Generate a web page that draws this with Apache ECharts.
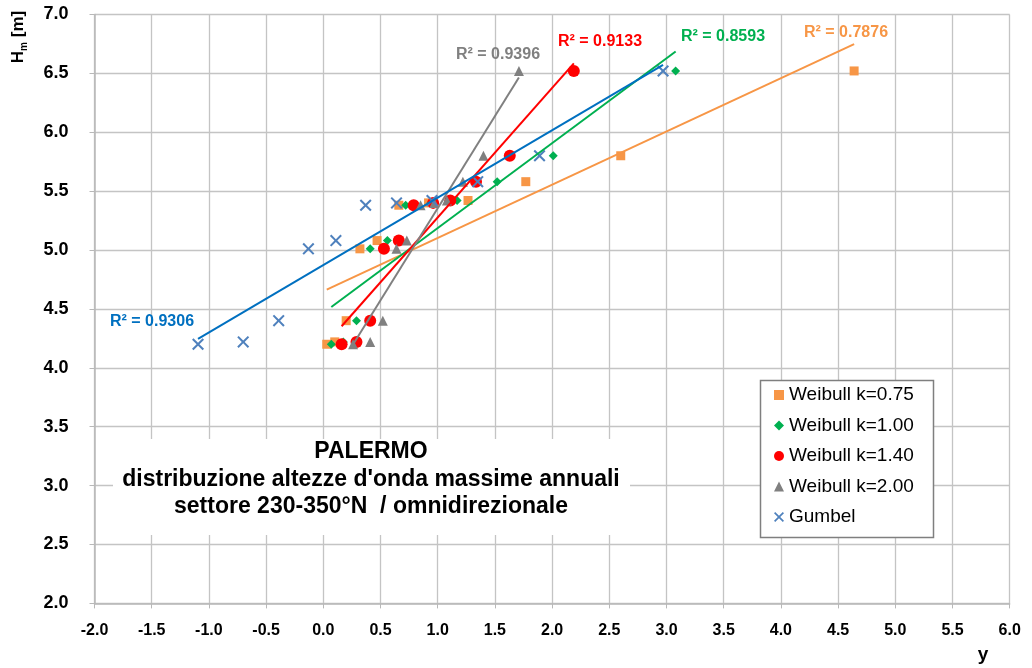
<!DOCTYPE html>
<html>
<head>
<meta charset="utf-8">
<script src="https://cdn.jsdelivr.net/npm/echarts@6/dist/echarts.min.js"></script>
<style>
html,body{margin:0;padding:0;background:#fff;}
#chart{width:1032px;height:668px;}
</style>
</head>
<body>
<div id="chart"></div>
<script>
// ---- data ----
const H = [4.20, 4.22, 4.40, 5.01, 5.08, 5.38, 5.40, 5.42, 5.58, 5.80, 6.52];
const yWeibull075 = [0.03, 0.10, 0.20, 0.32, 0.47, 0.66, 0.92, 1.265, 1.77, 2.60, 4.64];
const yWeibull100 = [0.07, 0.175, 0.29, 0.41, 0.56, 0.72, 0.94, 1.17, 1.52, 2.01, 3.08];
const yWeibull140 = [0.16, 0.29, 0.41, 0.53, 0.66, 0.79, 0.96, 1.11, 1.335, 1.63, 2.19];
const yWeibull200 = [0.26, 0.41, 0.52, 0.64, 0.73, 0.85, 0.97, 1.08, 1.22, 1.40, 1.71];
const yGumbel = [-1.095, -0.70, -0.39, -0.13, 0.11, 0.37, 0.64, 0.95, 1.35, 1.89, 2.97];
const seriesNames = ['Weibull k=0.75', 'Weibull k=1.00', 'Weibull k=1.40', 'Weibull k=2.00', 'Gumbel'];
const r2Labels = ['R² = 0.7876', 'R² = 0.8593', 'R² = 0.9133', 'R² = 0.9396', 'R² = 0.9306'];
const titleLines = ['PALERMO', "distribuzione altezze d'onda massime annuali", 'settore 230-350°N  / omnidirezionale'];
const xAxisTitle = 'y';
const yAxisTitle = 'H';
const yAxisSub = 'm';
const yAxisUnit = ' [m]';

// ---- styling ----
const colors = ['#F79646', '#00B050', '#FF0000', '#808080', '#4F81BD'];
const lineColors = ['#F79646', '#00B050', '#FF0000', '#808080', '#0070C0'];
const labelColors = ['#F79646', '#00B050', '#FF0000', '#808080', '#0070C0'];
const xSymbol = 'path://M0,1.2 L1.2,0 L5,3.8 L8.8,0 L10,1.2 L6.2,5 L10,8.8 L8.8,10 L5,6.2 L1.2,10 L0,8.8 L3.8,5 Z';
const symbols = ['rect', 'diamond', 'circle', 'triangle', xSymbol];
const symbolSizes = [9, 9, 12, 10, 12];
const labelPos = [[846, 33], [723, 37], [600, 42], [498, 55], [152, 322]];

const allY = [yWeibull075, yWeibull100, yWeibull140, yWeibull200, yGumbel];

function trend(xs, ys) {
  const n = xs.length;
  let mx = 0, my = 0;
  for (let i = 0; i < n; i++) { mx += xs[i]; my += ys[i]; }
  mx /= n; my /= n;
  let sxy = 0, sxx = 0;
  for (let i = 0; i < n; i++) { sxy += (xs[i] - mx) * (ys[i] - my); sxx += (xs[i] - mx) * (xs[i] - mx); }
  const b = sxy / sxx, a = my - b * mx;
  const x0 = Math.min(...xs), x1 = Math.max(...xs);
  return [[x0, a + b * x0], [x1, a + b * x1]];
}

const series = [];
allY.forEach((ys, i) => {
  series.push({
    name: seriesNames[i],
    type: 'scatter',
    symbol: symbols[i],
    symbolSize: symbolSizes[i],
    itemStyle: { color: colors[i], opacity: 1 },
    data: ys.map((v, j) => [v, H[j]]),
    z: 3
  });
});
allY.forEach((ys, i) => {
  series.push({
    name: 'trend' + i,
    type: 'line',
    data: trend(ys, H),
    showSymbol: false,
    symbol: 'none',
    lineStyle: { color: lineColors[i], width: 2 },
    silent: true,
    z: 4
  });
});

const graphics = [];
r2Labels.forEach((t, i) => {
  graphics.push({
    type: 'text', x: labelPos[i][0], y: labelPos[i][1], z: 50,
    style: { text: t, fill: labelColors[i], font: 'bold 16px "Liberation Sans", Arial, sans-serif', align: 'center', verticalAlign: 'middle' }
  });
});
// title box
graphics.push({ type: 'rect', shape: { x: 113, y: 439, width: 517, height: 96 }, style: { fill: '#fff' }, z: 40 });
const titleY = [452, 480, 507];
titleLines.forEach((t, i) => {
  graphics.push({
    type: 'text', x: 371, y: titleY[i], z: 50,
    style: { text: t, fill: '#000', font: 'bold 23px "Liberation Sans", Arial, sans-serif', align: 'center', verticalAlign: 'middle' }
  });
});
// legend box
graphics.push({ type: 'rect', shape: { x: 760.5, y: 380.5, width: 173, height: 157 }, style: { fill: '#fff', stroke: '#7F7F7F', lineWidth: 1.5 }, z: 5 });
// axis titles
graphics.push({
  type: 'text', x: 18, y: 37, rotation: Math.PI / 2, z: 50,
  style: {
    text: '{a|' + yAxisTitle + '}{b|' + yAxisSub + '}{a|' + yAxisUnit + '}',
    align: 'center', verticalAlign: 'middle',
    rich: {
      a: { fontSize: 17, fontWeight: 'bold', fontFamily: '"Liberation Sans", Arial, sans-serif', fill: '#000', verticalAlign: 'bottom' },
      b: { fontSize: 10, fontWeight: 'bold', fontFamily: '"Liberation Sans", Arial, sans-serif', fill: '#000', verticalAlign: 'bottom', padding: [0, 0, -3, 0] }
    }
  }
});
graphics.push({
  type: 'text', x: 983, y: 655, z: 50,
  style: { text: xAxisTitle, fill: '#000', font: 'bold 19px "Liberation Sans", Arial, sans-serif', align: 'center', verticalAlign: 'middle' }
});

const chart = echarts.init(document.getElementById('chart'), null, { renderer: 'canvas' });
chart.setOption({
  backgroundColor: '#fff',
  animation: false,
  grid: { left: 94.5, right: 22.3, top: 14.4, bottom: 64.6, containLabel: false },
  xAxis: {
    type: 'value', min: -2, max: 6, interval: 0.5,
    axisLine: { show: true, onZero: false, lineStyle: { color: '#B8B8B8', width: 1.5 } },
    axisTick: { show: true, inside: false, length: 5, lineStyle: { color: '#B8B8B8' } },
    splitLine: { show: true, lineStyle: { color: '#C4C4C4', width: 1.3 } },
    axisLabel: { margin: 19, color: '#000', fontWeight: 'bold', fontSize: 16, fontFamily: '"Liberation Sans", Arial, sans-serif', formatter: v => v.toFixed(1) }
  },
  yAxis: {
    type: 'value', min: 2, max: 7, interval: 0.5,
    axisLine: { show: true, onZero: false, lineStyle: { color: '#B8B8B8', width: 1.5 } },
    axisTick: { show: true, inside: false, length: 5, lineStyle: { color: '#B8B8B8' } },
    splitLine: { show: true, lineStyle: { color: '#C4C4C4', width: 1.3 } },
    axisLabel: { margin: 26, color: '#000', fontWeight: 'bold', fontSize: 18, fontFamily: '"Liberation Sans", Arial, sans-serif', formatter: v => v.toFixed(1) }
  },
  legend: {
    show: true,
    data: seriesNames,
    orient: 'vertical',
    left: 774, top: 385,
    padding: 0,
    itemWidth: 10, itemHeight: 10,
    itemGap: 10.5,
    z: 10,
    textStyle: { fontSize: 19, color: '#000', fontFamily: '"Liberation Sans", Arial, sans-serif', lineHeight: 20 }
  },
  graphic: graphics,
  series: series
});
</script>
</body>
</html>
